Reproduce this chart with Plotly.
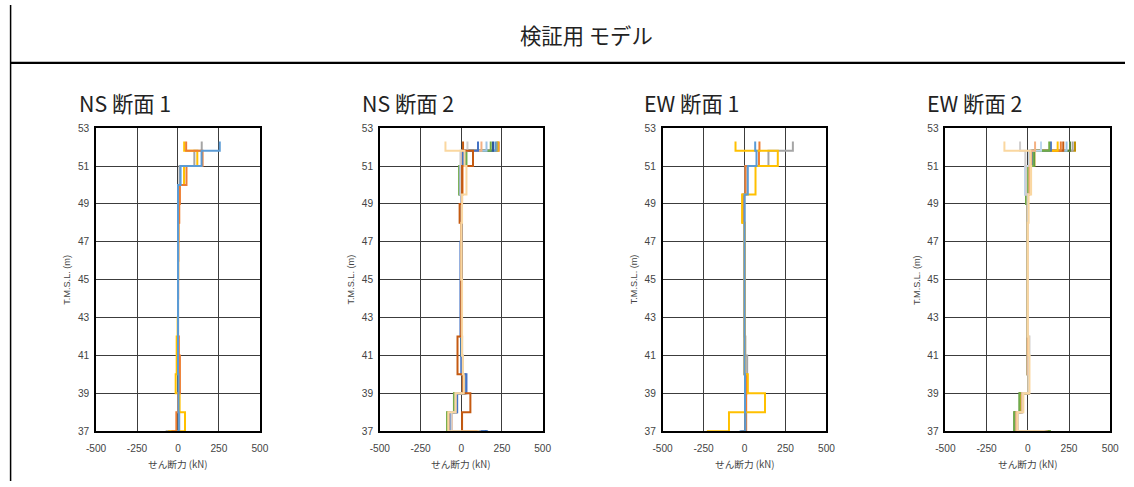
import plotly.graph_objects as go

W, H = 1134, 487

# Elevation break points (T.M.S.L., m); last point = bottom end of the profile
ELEV = [52.3, 51.8, 51.0, 50.0, 49.5, 49.0, 48.0, 47.0, 46.0, 45.0, 44.0,
        43.0, 42.0, 41.0, 40.0, 39.0, 38.0, 37.0]

X_TICKS = [-500, -250, 0, 250, 500]
X_TICKTEXT = ["-500", "-250", "0", "250", "500"]
Y_TICKS = [37, 39, 41, 43, 45, 47, 49, 51, 53]

TITLE = "検証用 モデル"
PANEL_TITLES = ["NS 断面 1", "NS 断面 2", "EW 断面 1", "EW 断面 2"]
X_LABEL = "せん断力 (kN)"
Y_LABEL = "T.M.S.L. (m)"

# ---- NS 断面 1 (shear force, kN) ----
ns1_gray   = [145, 100, 10, 5, 5, 3, 2, 2, 1, 1, 1, 1, 3, 6, 6, 5, 8, -75]
ns1_yellow = [38, 118, 37, 5, 5, 3, 2, 1, 1, 0, 0, -2, -8, -8, -14, 10, 43, -60]
ns1_orange = [50, 150, 52, 12, 12, 8, 3, 2, 1, 1, 0, 0, 5, 12, 12, 0, -10, -40]
ns1_blue   = [255, 144, 16, 0, 0, 0, 0, 0, 0, 0, 0, 0, 0, 0, 3, 3, 5, -5]

# ---- NS 断面 2 ----
ns2_s01 = [103, 10, -5, -5, 0, 0, 0, -5, -5, -5, -5, -5, 0, 0, 32, -25, -65, 160]
ns2_s02 = [230, 15, 0, 0, 0, 0, 0, 0, 0, 0, 0, 0, 0, 5, 10, -35, -60, 150]
ns2_s03 = [38, -5, -5, -5, 0, 0, 0, 0, 0, 0, 0, 0, 5, 10, 10, -35, -60, 120]
ns2_s04 = [224, 10, 5, 5, 0, 0, 0, 0, 0, 0, 0, 0, 0, 5, 15, -40, -80, 140]
ns2_s05 = [195, 12, 0, 0, 0, 0, 0, 0, 0, 0, 0, 0, 0, 5, 20, -30, -70, 155]
ns2_s06 = [181, 32, -13, -13, 0, 0, 0, 0, 0, 0, 0, 0, 0, 5, 15, -44, -87, 130]
ns2_s07 = [210, 20, 0, 0, 0, 0, 0, 0, 0, 0, 0, 0, 0, 5, 25, -30, -70, 165]
ns2_s08 = [11, 72, 5, 5, 5, -10, 0, 0, 0, 0, 0, 0, -23, -23, 10, 56, 5, 100]
ns2_s09 = [220, 25, -10, -10, 0, 0, 0, 0, 0, 0, 0, 0, 0, 5, 15, -45, -85, 135]
ns2_s10 = [155, 5, -5, -5, 0, 0, 0, 0, 0, 0, 0, 0, 5, 5, 20, -30, -70, 145]
ns2_s11 = [124, 0, 10, 10, 0, 0, 0, 0, 0, 0, 0, 0, 5, 5, 15, -30, -75, 125]
ns2_s12 = [-97, 20, 32, 32, 5, 5, 0, 0, 0, 5, 5, 5, 5, 10, 15, -35, -80, 110]

# ---- EW 断面 1 ----
ew1_gray   = [295, 146, 5, 5, 0, 0, 0, 0, 0, 0, 0, 0, 5, 16, 16, 5, 5, -10]
ew1_orange = [91, 88, 6, 6, -10, -10, 0, 0, 0, 0, 0, 0, 0, 0, 10, 10, 10, -20]
ew1_yellow = [-55, 203, 67, 67, -15, -15, 0, 0, 0, 0, 0, 0, 0, 0, 20, 125, -95, -230]
ew1_blue   = [65, 73, 20, 20, 0, 0, 0, 0, 0, 0, 0, 0, 0, 0, 3, 3, 5, -30]

# ---- EW 断面 2 ----
ew2_s01 = [140, 25, -5, -5, 0, 0, 0, 0, 0, 0, 0, 0, 0, 0, 5, -35, -70, 120]
ew2_s02 = [200, 30, 0, 0, 0, 0, 0, 0, 0, 0, 0, 0, 0, 0, 5, -40, -70, 115]
ew2_s03 = [-47, -15, -10, -10, 0, 0, 0, 0, 0, 0, 0, 0, 10, 5, 5, -30, -60, 105]
ew2_s04 = [181, 20, 5, 5, 0, 0, 0, 0, 0, 0, 0, 0, 0, 0, 5, -40, -70, 125]
ew2_s05 = [235, 15, -15, -15, 0, 0, 0, 0, 0, 0, 0, 0, 0, 0, 5, -35, -65, 110]
ew2_s06 = [130, 35, 0, 0, -10, 0, 0, 0, 0, 0, 0, 0, 0, 0, 5, -50, -82, 140]
ew2_s07 = [215, 30, 5, 5, 0, 0, 0, 0, 0, 0, 0, 0, 0, 0, 5, -45, -75, 130]
ew2_s08 = [286, 40, 5, 5, 0, 0, 0, 0, 0, 0, 0, 0, 0, 0, 5, -45, -63, 120]
ew2_s09 = [272, 10, -5, -5, 0, 0, 0, 0, 0, 0, 0, 0, 0, 0, 5, -40, -70, 115]
ew2_s10 = [80, 10, -15, -15, 0, 0, 0, 0, 0, 0, 0, 0, 0, 0, 5, -35, -65, 110]
ew2_s11 = [256, 38, 5, 5, -10, 0, 0, 0, 0, 0, 0, 0, 0, 0, 5, -50, -82, 140]
ew2_s12 = [44, 20, 10, 10, 0, 0, 0, 0, 0, 0, 0, 0, 0, 0, 5, -35, -70, 120]
ew2_s13 = [-142, 15, 20, 20, 5, 5, 0, 0, 0, 0, 0, 0, 5, 10, 10, -27, -63, 100]

C4 = {"blue": "#5B9BD5", "orange": "#ED7D31", "gray": "#A5A5A5", "yellow": "#FFC000"}

# drawing order (later = on top)
panels = [
    [(ns1_gray, C4["gray"]), (ns1_yellow, C4["yellow"]), (ns1_orange, C4["orange"]),
     (ns1_blue, C4["blue"])],
    [(ns2_s02, "#ED7D31"), (ns2_s04, "#FFC000"), (ns2_s09, "#A9A66A"),
     (ns2_s07, "#5B9BD5"), (ns2_s05, "#2F5597"), (ns2_s06, "#70AD47"),
     (ns2_s10, "#9DC3E6"), (ns2_s11, "#F4B183"), (ns2_s01, "#4472C4"),
     (ns2_s03, "#D0CECE"), (ns2_s08, "#C55A11"), (ns2_s12, "#FAD7A0")],
    [(ew1_gray, C4["gray"]), (ew1_orange, C4["orange"]), (ew1_yellow, C4["yellow"]),
     (ew1_blue, C4["blue"])],
    [(ew2_s08, "#BF9000"), (ew2_s09, "#A5A5A5"), (ew2_s11, "#548235"),
     (ew2_s05, "#9DC3E6"), (ew2_s07, "#C55A11"), (ew2_s02, "#ED7D31"),
     (ew2_s04, "#FFC000"), (ew2_s01, "#4472C4"), (ew2_s06, "#70AD47"),
     (ew2_s10, "#BDD7EE"), (ew2_s12, "#F4B183"), (ew2_s03, "#D0CECE"),
     (ew2_s13, "#FAD7A0")],
]

# target layout, in pixels of the final picture
px_x = [(96, 260), (380, 543), (663, 827), (946, 1111)]
px_top, px_bot = 128.5, 433

# the photographed page comes out slightly shrunk about its centre; compensate
SX, BX, SY, BY = 0.984, 9.9, 0.982, 4.8


def fx(x):
    return min(max((x - BX) / SX / W, 0.0), 1.0)


def fy(y):
    return min(max(1 - (y - BY) / SY / H, 0.0), 1.0)


K = 1 / SX
fig = go.Figure()
FONT_TICK = dict(family="Liberation Sans", size=10 * K, color="#444444")


def note(x, y, text, font, angle=0):
    fig.add_annotation(x=fx(x), y=fy(y), xref="paper", yref="paper",
                       xanchor="center", yanchor="middle", text=text,
                       textangle=angle, showarrow=False, font=font)


for i, series in enumerate(panels):
    ax = "" if i == 0 else str(i + 1)
    for vals, col in series:
        fig.add_trace(go.Scatter(
            x=vals, y=ELEV, mode="lines", line=dict(color=col, width=2, shape="vh"),
            xaxis="x" + ax, yaxis="y" + ax, showlegend=False, hoverinfo="skip"))
    l, r = px_x[i]
    fig.layout["xaxis" + ax] = dict(
        domain=[fx(l), fx(r)], anchor="y" + ax, range=[-500, 500],
        tickvals=X_TICKS, ticktext=X_TICKTEXT, showgrid=True, gridcolor="#3c3c3c",
        gridwidth=1, zeroline=False, showline=True, linecolor="black", linewidth=1.5,
        mirror=True, ticks="", tickfont=FONT_TICK, ticklabelstandoff=7,
        fixedrange=True)
    fig.layout["yaxis" + ax] = dict(
        domain=[fy(px_bot), fy(px_top)], anchor="x" + ax, range=[37, 53],
        tickvals=Y_TICKS, showgrid=True, gridcolor="#3c3c3c", gridwidth=1,
        zeroline=False, showline=True, linecolor="black", linewidth=1.5, mirror=True,
        ticks="", tickfont=FONT_TICK, ticklabelstandoff=3, fixedrange=True)
    cx = (l + r) / 2
    note(cx, 466, X_LABEL, dict(family="Noto Sans CJK JP", size=9.5 * K, color="#444444"))
    note(l - 29, (px_top + px_bot) / 2, Y_LABEL,
         dict(family="Liberation Sans", size=9 * K, color="#444444"), angle=-90)
    note(cx - 53, 103, PANEL_TITLES[i],
         dict(family="Noto Sans CJK JP", size=21 * K, color="#222222"))

note(587, 34, TITLE, dict(family="Noto Sans CJK JP", size=21 * K, color="#222222"))

fig.add_shape(type="line", xref="paper", yref="paper", x0=0.6 / W, x1=0.6 / W,
              y0=0, y1=fy(4), line=dict(color="black", width=1.5))
fig.add_shape(type="line", xref="paper", yref="paper", x0=fx(8), x1=1,
              y0=fy(63), y1=fy(63), line=dict(color="black", width=2.2))

fig.update_layout(width=W, height=H, margin=dict(l=0, r=0, t=0, b=0),
                  paper_bgcolor="white", plot_bgcolor="white")

fig.write_html("out.html", config={"displayModeBar": False},
               post_script="document.body.style.margin='0';"
                           "document.body.style.overflow='hidden';")
